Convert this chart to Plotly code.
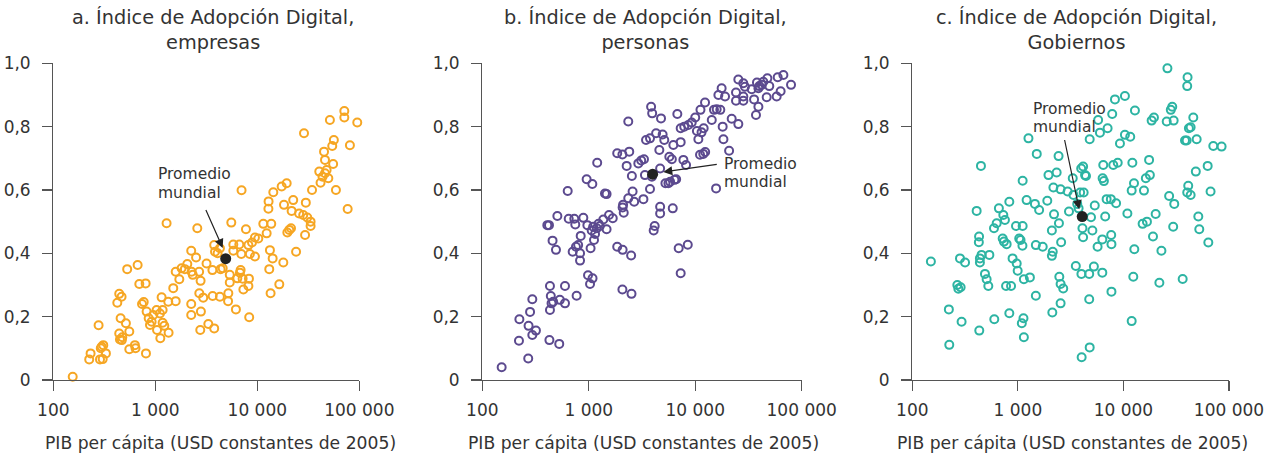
import math
import plotly.graph_objects as go

# ---------------- data ----------------
# Panel a: empresas  (GDP per capita USD 2005, index)
gdp_a = [155,232,225,278,287,305,298,309,328,292,
         424,443,467,457,443,450,470,475,515,530,
         556,556,631,640,671,697,804,741,770,810,
         822,861,887,920,955,1030,1040,1110,1153,1120,
         1180,1180,1225,1350,1290,1340,1585,1500,1585,1720,
         1810,1950,2060,2250,2270,2330,2250,2250,2510,2580,
         2690,2780,2700,2800,2760,2950,3180,3310,3630,3650,
         3780,3780,3850,4300,4370,4580,4080,4300,5200,5170,
         5370,5370,5560,5820,5820,6170,6370,6660,6760,6860,
         6970,7010,7180,7300,7740,8180,8280,8180,8330,8450,
         8870,9480,9480,10230,11450,12350,12900,12850,13300,13100,
         13500,13700,14140,14350,16430,17330,17990,18270,19410,19700,
         20600,21400,21700,22500,24000,25700,28200,28700,29400,29900,
         30900,33300,33300,34400,40500,41700,43600,45100,46100,46100,
         47800,49700,51500,54300,56300,55400,59000,71300,71300,76900,
         80900,95500]
idx_a = [0.01,0.084,0.065,0.173,0.065,0.066,0.105,0.11,0.084,0.10,
         0.244,0.272,0.263,0.195,0.147,0.128,0.126,0.135,0.179,0.35,
         0.153,0.097,0.11,0.10,0.363,0.303,0.305,0.24,0.246,0.084,
         0.216,0.195,0.174,0.184,0.205,0.221,0.158,0.21,0.261,0.132,
         0.221,0.181,0.171,0.149,0.495,0.247,0.249,0.29,0.342,0.318,
         0.353,0.35,0.366,0.408,0.342,0.332,0.24,0.205,0.387,0.479,
         0.342,0.313,0.274,0.216,0.158,0.26,0.368,0.177,0.347,0.265,
         0.163,0.426,0.405,0.263,0.35,0.353,0.40,0.416,0.274,0.249,
         0.332,0.308,0.497,0.428,0.408,0.223,0.321,0.428,0.339,0.347,
         0.398,0.599,0.32,0.286,0.476,0.426,0.32,0.297,0.198,0.398,
         0.434,0.39,0.45,0.447,0.493,0.463,0.564,0.541,0.41,0.35,
         0.274,0.493,0.384,0.593,0.302,0.611,0.371,0.553,0.621,0.466,
         0.474,0.479,0.534,0.568,0.405,0.526,0.521,0.779,0.458,0.56,
         0.513,0.5,0.486,0.6,0.658,0.623,0.642,0.721,0.695,0.653,
         0.663,0.637,0.821,0.739,0.758,0.682,0.6,0.849,0.829,0.54,
         0.741,0.813]

# Panel b: personas
gdp_b = [152,223,221,270,272,281,295,295,319,427,
         432,432,440,447,463,408,423,457,492,507,
         528,535,598,598,634,648,706,731,747,758,
         769,795,828,828,840,889,955,970,984,1028,
         1040,1080,1085,1065,1100,1120,1145,1190,1200,1235,
         1270,1370,1420,1470,1470,1550,1680,1850,1850,2070,
         2080,2070,2080,2100,2130,2270,2350,2400,2350,2500,
         2520,2540,2580,2670,2920,3110,3260,3300,3370,3450,
         3760,3760,3850,3940,4070,4160,3920,4290,4600,4680,
         4680,4680,4770,4940,5120,5250,5600,5810,5710,6030,
         6150,6230,6380,6620,6790,6990,7300,7300,7300,7740,
         8200,7880,8510,8600,9270,10000,10370,10700,11090,11200,
         11460,11900,12400,12000,12360,14300,15000,15900,15700,17200,
         18100,18400,16500,17700,19050,20800,22000,24150,24150,25400,
         25400,28300,28300,28300,29300,33900,35700,37200,38000,39200,
         39200,40000,42100,43600,46900,47600,49600,58200,59500,63400,
         67300,79400]
idx_b = [0.04,0.192,0.124,0.068,0.171,0.215,0.255,0.142,0.156,0.126,
         0.221,0.297,0.265,0.242,0.247,0.489,0.489,0.44,0.411,0.518,
         0.114,0.253,0.297,0.242,0.597,0.509,0.405,0.509,0.491,0.421,
         0.266,0.426,0.4,0.377,0.455,0.512,0.634,0.489,0.331,0.303,
         0.416,0.619,0.321,0.472,0.484,0.442,0.461,0.479,0.686,0.493,
         0.486,0.507,0.589,0.587,0.476,0.521,0.511,0.716,0.421,0.712,
         0.411,0.286,0.545,0.553,0.528,0.676,0.816,0.721,0.574,0.393,
         0.272,0.644,0.595,0.563,0.684,0.693,0.571,0.697,0.647,0.758,
         0.763,0.603,0.863,0.842,0.472,0.486,0.642,0.779,0.726,0.668,
         0.547,0.526,0.826,0.775,0.758,0.621,0.621,0.626,0.705,0.697,
         0.542,0.742,0.632,0.634,0.84,0.416,0.795,0.751,0.337,0.695,
         0.679,0.8,0.427,0.805,0.813,0.829,0.786,0.76,0.711,0.853,
         0.782,0.714,0.72,0.795,0.876,0.821,0.853,0.855,0.605,0.853,
         0.8,0.76,0.9,0.921,0.895,0.724,0.825,0.908,0.882,0.949,
         0.808,0.937,0.895,0.882,0.926,0.918,0.886,0.837,0.939,0.921,
         0.863,0.928,0.932,0.942,0.893,0.953,0.928,0.895,0.956,0.912,
         0.963,0.932]

# Panel c: gobiernos
gdp_c = [150,222,224,267,273,287,283,293,316,407,
         429,427,431,437,447,437,453,488,506,525,
         537,594,598,630,661,718,728,754,738,783,
         773,830,830,862,891,960,975,996,1030,1060,
         1110,1090,1130,1110,1105,1140,1140,1210,1260,1300,
         1450,1480,1480,1510,1590,1720,1900,1950,2100,2140,
         2100,2120,2170,2200,2330,2430,2450,2470,2540,2540,
         2540,2570,2690,2960,3050,3310,3360,3540,3650,3760,
         3890,3980,4090,4150,4150,4200,4000,4020,4330,4420,
         4740,4790,4790,4740,4930,5080,5250,5350,5690,5760,
         5990,6310,6310,6350,6440,6530,6720,6930,7080,7600,
         7660,7700,7700,7830,8010,8310,8520,8830,9270,10330,
         10330,10900,11600,11970,12150,11970,12400,12590,12850,12680,
         15200,15650,16700,16300,17500,17800,18500,19450,19060,20200,
         21900,22900,25700,26100,27100,28100,29000,29600,29900,30300,
         36400,38300,39700,40200,40500,40200,41100,41700,43300,43300,
         45900,49400,48500,51200,52300,62800,63700,66900,71000,85100]
idx_c = [0.374,0.223,0.111,0.30,0.288,0.293,0.384,0.184,0.371,0.534,
         0.453,0.435,0.156,0.371,0.676,0.384,0.395,0.335,0.318,0.297,
         0.395,0.479,0.192,0.495,0.542,0.447,0.521,0.505,0.437,0.429,
         0.297,0.563,0.211,0.297,0.384,0.486,0.368,0.345,0.447,0.442,
         0.486,0.179,0.195,0.629,0.424,0.318,0.135,0.568,0.763,0.324,
         0.556,0.426,0.266,0.714,0.537,0.421,0.566,0.647,0.392,0.405,
         0.472,0.213,0.608,0.523,0.655,0.707,0.495,0.326,0.303,0.602,
         0.242,0.435,0.289,0.595,0.532,0.637,0.584,0.36,0.556,0.542,
         0.592,0.668,0.479,0.674,0.451,0.592,0.335,0.072,0.647,0.644,
         0.335,0.103,0.76,0.255,0.514,0.472,0.358,0.551,0.421,0.821,
         0.781,0.339,0.444,0.637,0.679,0.628,0.516,0.571,0.795,0.571,
         0.458,0.279,0.429,0.84,0.679,0.886,0.558,0.686,0.747,0.897,
         0.774,0.526,0.768,0.598,0.686,0.186,0.326,0.621,0.851,0.413,
         0.493,0.598,0.5,0.637,0.695,0.647,0.819,0.829,0.453,0.524,
         0.307,0.408,0.816,0.984,0.581,0.853,0.863,0.484,0.819,0.556,
         0.319,0.756,0.756,0.928,0.956,0.592,0.613,0.795,0.798,0.584,
         0.829,0.76,0.658,0.516,0.476,0.676,0.434,0.595,0.739,0.737]

# World averages (Promedio mundial)
mean_gdp = [4900, 3980, 4070]
mean_idx = [0.383, 0.650, 0.516]
# arrow tips (data coords)
arrow_gdp = [4580, 5010, 3810]
arrow_idx = [0.417, 0.657, 0.539]

titles = ["a. Índice de Adopción Digital,<br>empresas",
          "b. Índice de Adopción Digital,<br>personas",
          "c. Índice de Adopción Digital,<br>Gobiernos"]
x_title = "PIB per cápita (USD constantes de 2005)"
x_tickvals = [100, 1000, 10000, 100000]
x_ticktext = ["100", "1 000", "10 000", "100 000"]
y_tickvals = [0, 0.2, 0.4, 0.6, 0.8, 1.0]
y_ticktext = ["0", "0,2", "0,4", "0,6", "0,8", "1,0"]

colors = ["#F6A623", "#5C4A8F", "#2DB4A3"]

# ---------------- layout geometry ----------------
W, H = 1282, 458
x_dom_px = [(53.3, 359.3), (482.3, 801.7), (912.3, 1229.0)]
y_top_px, y_bot_px = 63.3, 380.0
title_cx = [213, 645, 1076]
xtitle_cx = [220, 643.5, 1072]

FONT = "DejaVu Sans"
TXT = "#333333"
AX = "#555555"

fig = go.Figure()
data = [(gdp_a, idx_a), (gdp_b, idx_b), (gdp_c, idx_c)]
for i, (gx, gy) in enumerate(data):
    sfx = "" if i == 0 else str(i + 1)
    fig.add_trace(go.Scatter(
        x=gx, y=gy, mode="markers", xaxis="x" + sfx, yaxis="y" + sfx,
        marker=dict(symbol="circle-open", size=8, color=colors[i],
                    line=dict(width=2, color=colors[i])),
        cliponaxis=False, showlegend=False, hoverinfo="skip"))
    fig.add_trace(go.Scatter(
        x=[mean_gdp[i]], y=[mean_idx[i]], mode="markers",
        xaxis="x" + sfx, yaxis="y" + sfx,
        marker=dict(symbol="circle", size=11, color="#222222"),
        cliponaxis=False, showlegend=False, hoverinfo="skip"))

layout = dict(width=W, height=H, margin=dict(l=0, r=0, t=0, b=0, pad=0),
              paper_bgcolor="white", plot_bgcolor="white",
              font=dict(family=FONT, color=TXT, size=17))
ydom = [1 - y_bot_px / H, 1 - y_top_px / H]
for i in range(3):
    sfx = "" if i == 0 else str(i + 1)
    xd = [x_dom_px[i][0] / W, x_dom_px[i][1] / W]
    layout["xaxis" + sfx] = dict(
        type="log", range=[2, 5], domain=xd, anchor="y" + sfx,
        automargin=False,
        tickvals=x_tickvals, ticktext=x_ticktext, showgrid=False,
        zeroline=False, showline=True, linecolor=AX, linewidth=1.2,
        ticks="outside", ticklen=10, tickcolor=AX, tickwidth=1.2,
        tickfont=dict(size=17, family=FONT, color=TXT), ticklabelstandoff=4)
    layout["yaxis" + sfx] = dict(
        range=[0, 1], domain=ydom, anchor="x" + sfx,
        automargin=False,
        tickvals=y_tickvals, ticktext=y_ticktext, showgrid=False,
        zeroline=False, showline=True, linecolor=AX, linewidth=1.2,
        ticks="outside", ticklen=10, tickcolor=AX, tickwidth=1.2,
        tickfont=dict(size=17, family=FONT, color=TXT), ticklabelstandoff=8)
fig.update_layout(**layout)

ann = []
for i in range(3):
    ann.append(dict(text=titles[i], xref="paper", yref="paper",
                    x=title_cx[i] / W, y=1 - 30 / H, xanchor="center",
                    yanchor="middle", showarrow=False,
                    font=dict(size=19.3, family=FONT, color=TXT)))
    ann.append(dict(text=x_title, xref="paper", yref="paper",
                    x=xtitle_cx[i] / W, y=1 - 443 / H, xanchor="center",
                    yanchor="middle", showarrow=False,
                    font=dict(size=17.2, family=FONT, color=TXT)))

# arrows (annotation positions on log axes are given in log10 units)
arrow_off = [(-17.7, -40), (55, -7.7), (-15, -71.3)]
for i in range(3):
    sfx = "" if i == 0 else str(i + 1)
    ann.append(dict(text=" ", x=math.log10(arrow_gdp[i]), y=arrow_idx[i],
                    xref="x" + sfx, yref="y" + sfx,
                    showarrow=True, arrowhead=2, arrowsize=1.5,
                    arrowwidth=1.2, arrowcolor="#222222",
                    font=dict(size=1),
                    ax=arrow_off[i][0], ay=arrow_off[i][1]))

# "Promedio mundial" labels (left x, line centres in px)
lab_pos = [(155.7, 174, 193), (722, 164, 182), (1031, 109.3, 126.7)]
for i, (lx, y1, y2) in enumerate(lab_pos):
    for txt, yy in (("Promedio", y1), ("mundial", y2)):
        ann.append(dict(text=txt, xref="paper", yref="paper",
                        x=lx / W, y=1 - yy / H, xanchor="left",
                        yanchor="middle", showarrow=False,
                        font=dict(size=15.5, family=FONT, color=TXT)))
fig.update_layout(annotations=ann)

fig.write_html("out.html",
               config={"displayModeBar": False, "staticPlot": True},
               post_script="document.body.style.margin='0';"
                           "document.body.style.overflow='hidden';")
